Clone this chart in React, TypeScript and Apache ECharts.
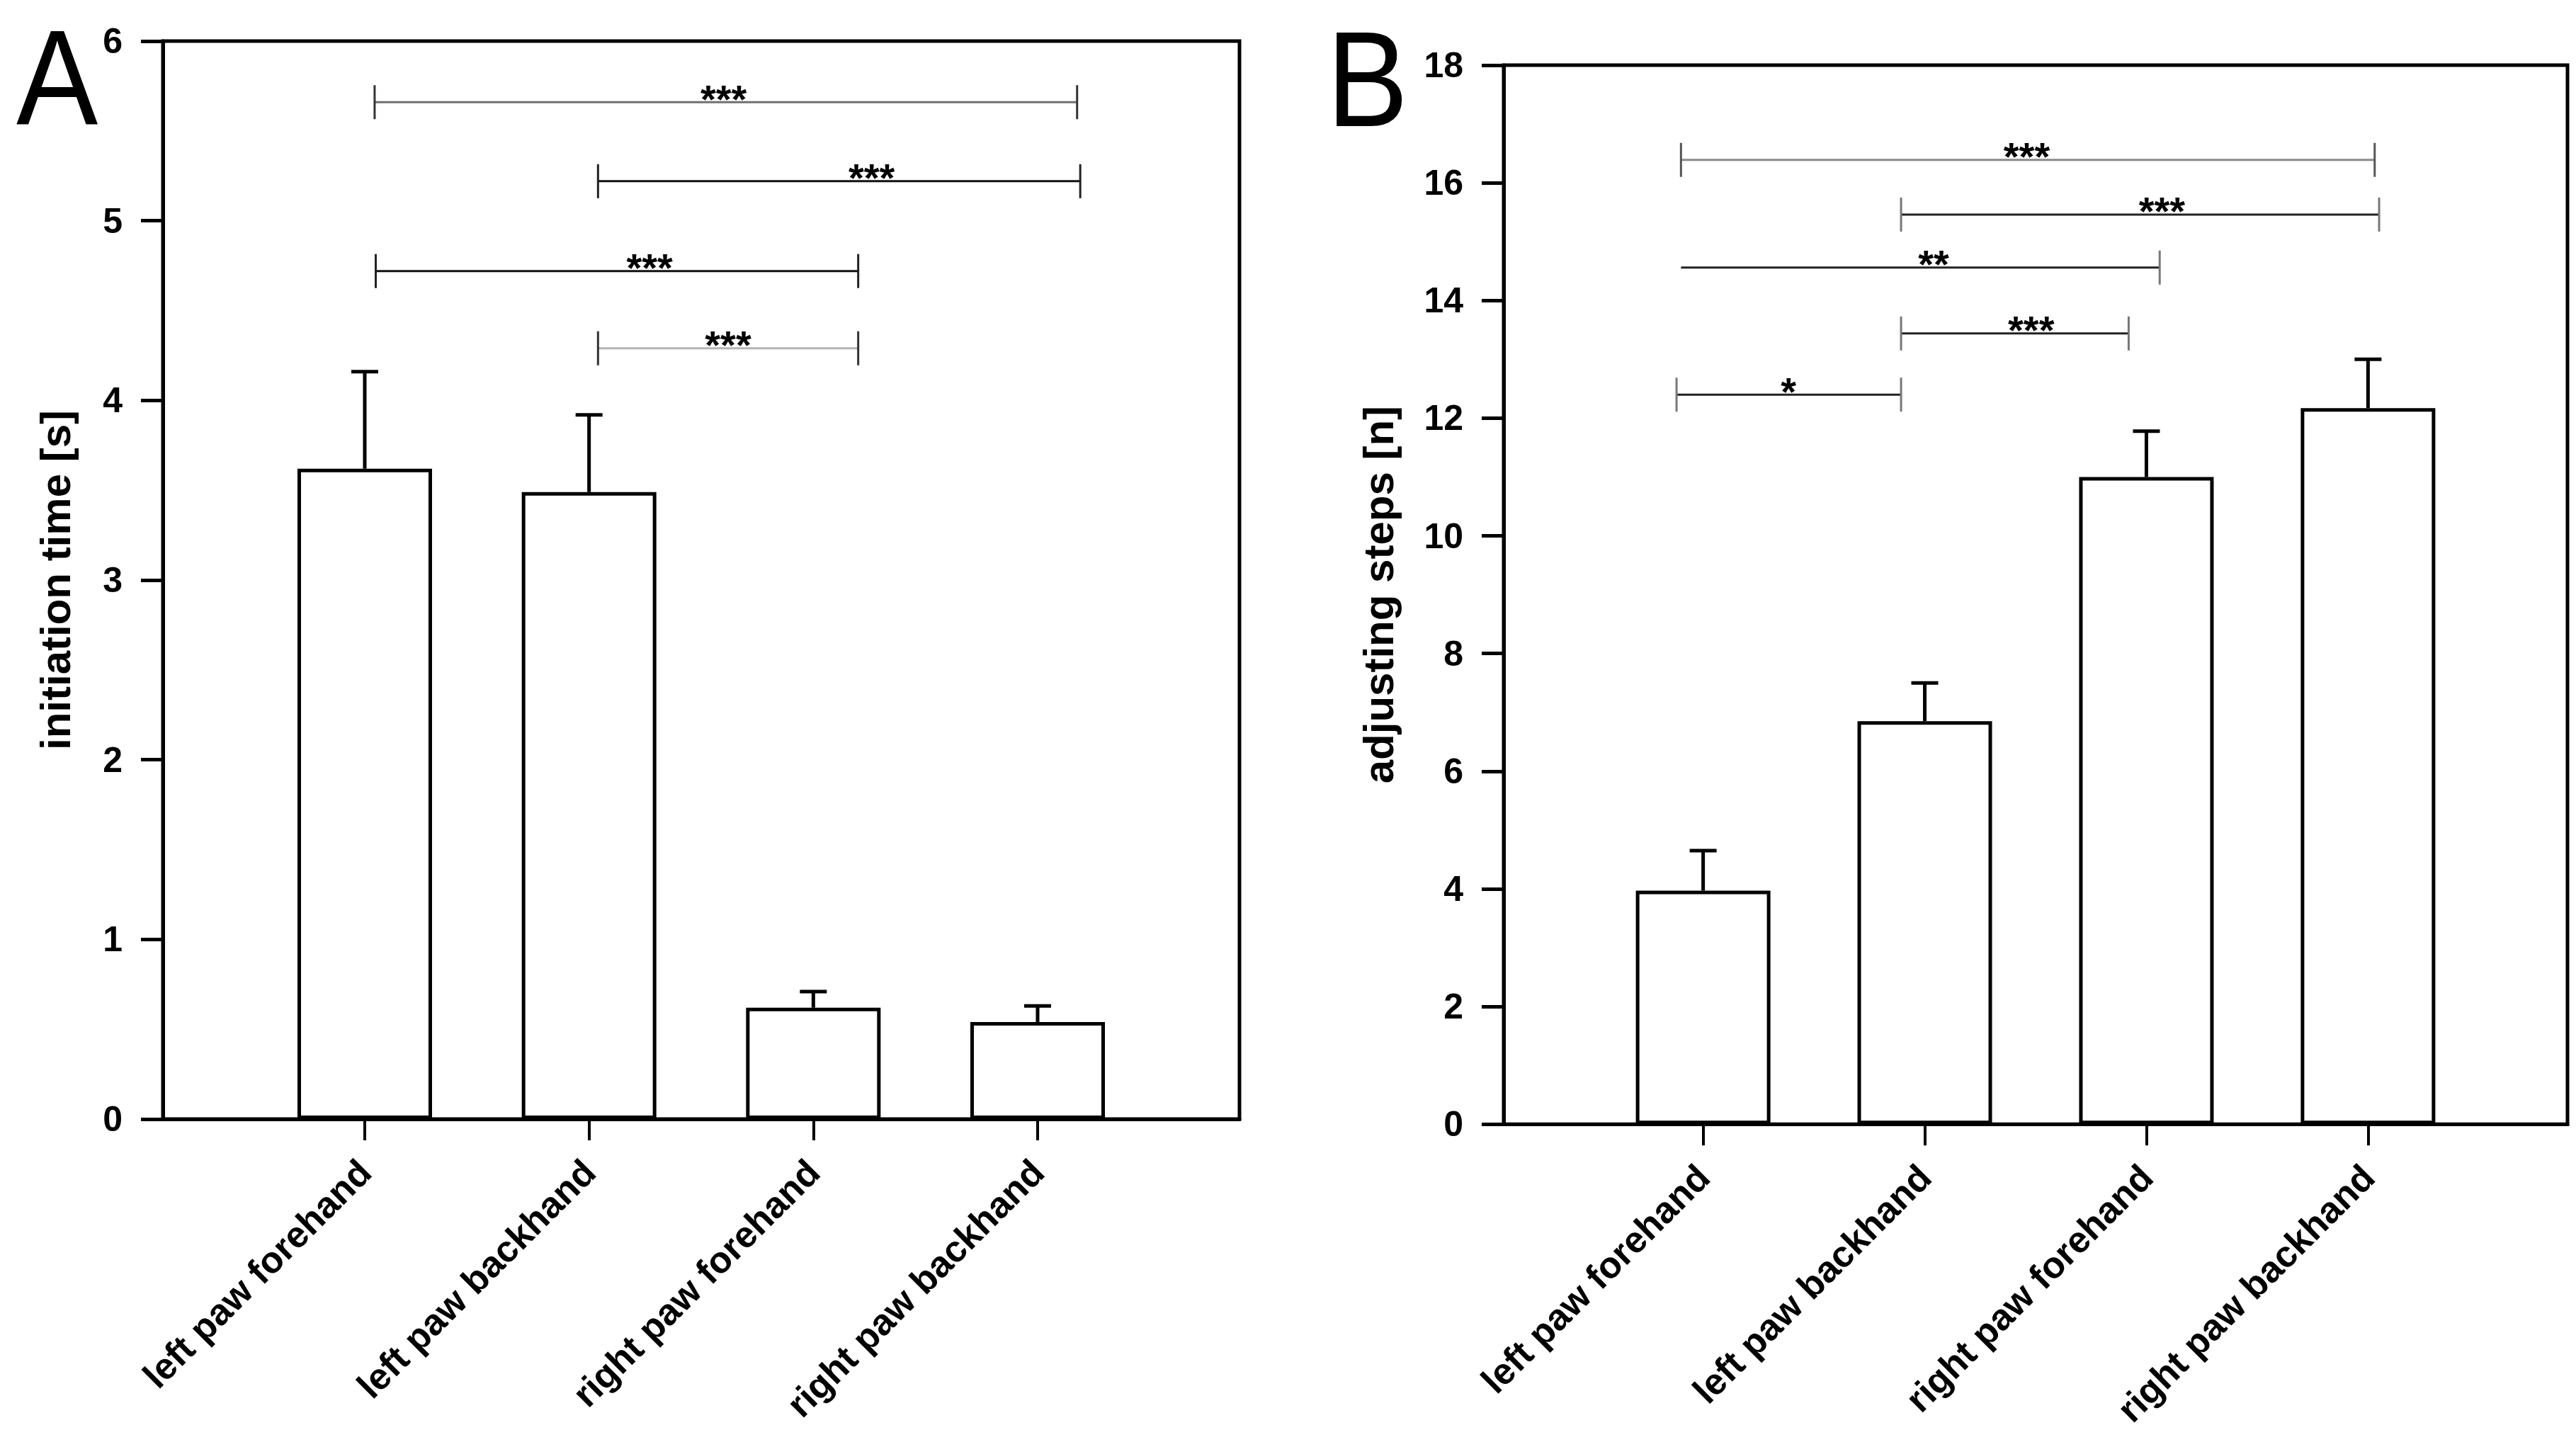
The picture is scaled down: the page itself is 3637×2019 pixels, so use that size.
import React, { useEffect, useRef } from "react";
import * as echarts from "echarts";

const FONT = "'Liberation Sans', Arial, Helvetica, sans-serif";

// ---- data ----
const categories = ["left paw forehand", "left paw backhand", "right paw forehand", "right paw backhand"];
const catPos = [1, 2, 3, 4];

const meanA = [3.62, 3.49, 0.62, 0.54];
const errTopA = [4.16, 3.92, 0.71, 0.63];
const yTicksA = [0, 1, 2, 3, 4, 5, 6];

const meanB = [3.97, 6.85, 11.0, 12.17];
const errTopB = [4.65, 7.5, 11.78, 13.0];
const yTicksB = [0, 2, 4, 6, 8, 10, 12, 14, 16, 18];

const bracketStartA = [1.044, 2.04, 1.049, 2.04];
const bracketEndA = [4.176, 4.19, 3.2, 3.2];
const bracketLevelA = [5.66, 5.22, 4.72, 4.29];
const bracketTextXA = [2.6, 3.26, 2.27, 2.62];
const bracketStarsA = ["***", "***", "***", "***"];
const bracketLeftTickA = [1, 1, 1, 1];

const bracketStartB = [0.9, 1.893, 0.9, 1.893, 0.88];
const bracketEndB = [4.03, 4.05, 3.06, 2.92, 1.893];
const bracketLevelB = [16.39, 15.46, 14.56, 13.44, 12.4];
const bracketTextXB = [2.46, 3.07, 2.04, 2.48, 1.385];
const bracketStarsB = ["***", "***", "**", "***", "*"];
const bracketLeftTickB = [1, 1, 0, 1, 1];

// ---- styles ----
const bracketLineColorA = ["#707070", "#111111", "#111111", "#b4b4b4"];
const bracketTickColorA = ["#333333", "#222222", "#222222", "#333333"];
const bracketLineColorB = ["#8a8a8a", "#222222", "#222222", "#222222", "#222222"];
const bracketTickColorB = ["#555555", "#777777", "#777777", "#777777", "#777777"];

function makeXAxis(gridIndex: number) {
  return {
    type: "value",
    gridIndex,
    min: 0.1,
    max: 4.9,
    axisLine: { show: true, onZero: false, lineStyle: { color: "#000", width: 5 } },
    axisTick: { show: true, customValues: catPos, length: 30, lineStyle: { color: "#000", width: 4 } },
    axisLabel: {
      show: true,
      customValues: catPos,
      formatter: (v: number) => categories[Math.round(v) - 1] || "",
      rotate: 45,
      margin: 66,
      fontSize: 52,
      fontWeight: "bold",
      fontFamily: FONT,
      color: "#000",
    },
    splitLine: { show: false },
  };
}

function makeYAxis(gridIndex: number, ticks: number[], name: string, nameGap: number) {
  return {
    type: "value",
    gridIndex,
    min: ticks[0],
    max: ticks[ticks.length - 1],
    interval: ticks[1] - ticks[0],
    axisLine: { show: true, lineStyle: { color: "#000", width: 5 } },
    axisTick: { show: true, length: 31, lineStyle: { color: "#000", width: 5 } },
    axisLabel: { margin: 57, fontSize: 50, fontWeight: "bold", fontFamily: FONT, color: "#000" },
    splitLine: { show: false },
    name,
    nameLocation: "middle",
    nameGap,
    nameTextStyle: { fontSize: 60, fontWeight: "bold", fontFamily: FONT, color: "#000" },
  };
}

function barSeries(idx: number, means: number[]) {
  return {
    type: "bar",
    xAxisIndex: idx,
    yAxisIndex: idx,
    data: catPos.map((x, i) => [x, means[i]]),
    barWidth: 190,
    itemStyle: { color: "#ffffff", borderColor: "#000", borderWidth: 5 },
    z: 2,
  };
}

function errSeries(idx: number, means: number[], tops: number[]) {
  return {
    type: "custom",
    xAxisIndex: idx,
    yAxisIndex: idx,
    data: catPos.map((x, i) => [x, means[i], tops[i]]),
    z: 3,
    renderItem: (params: any, api: any) => {
      const p0 = api.coord([api.value(0), api.value(1)]);
      const p1 = api.coord([api.value(0), api.value(2)]);
      const st = { stroke: "#000", lineWidth: 5 };
      return {
        type: "group",
        children: [
          { type: "line", shape: { x1: p0[0], y1: p0[1], x2: p1[0], y2: p1[1] }, style: st },
          { type: "line", shape: { x1: p1[0] - 19, y1: p1[1], x2: p1[0] + 19, y2: p1[1] }, style: st },
        ],
      };
    },
  };
}

function bracketSeries(
  idx: number,
  starts: number[],
  ends: number[],
  levels: number[],
  textXs: number[],
  stars: string[],
  leftTicks: number[],
  lineColors: string[],
  tickColors: string[]
) {
  return {
    type: "custom",
    xAxisIndex: idx,
    yAxisIndex: idx,
    data: starts.map((s, i) => [s, ends[i], levels[i], textXs[i], leftTicks[i], i]),
    z: 4,
    renderItem: (params: any, api: any) => {
      const i = api.value(5);
      const a = api.coord([api.value(0), api.value(2)]);
      const b = api.coord([api.value(1), api.value(2)]);
      const t = api.coord([api.value(3), api.value(2)]);
      const h = 24;
      const children: any[] = [
        {
          type: "line",
          shape: { x1: a[0], y1: a[1], x2: b[0], y2: b[1] },
          style: { stroke: lineColors[i], lineWidth: 3 },
        },
        {
          type: "line",
          shape: { x1: b[0], y1: b[1] - h, x2: b[0], y2: b[1] + h },
          style: { stroke: tickColors[i], lineWidth: 3 },
        },
        {
          type: "text",
          x: t[0],
          y: t[1] - 5,
          style: {
            text: stars[i],
            fill: "#000",
            fontSize: 56,
            fontWeight: "bold",
            fontFamily: FONT,
            align: "center",
            verticalAlign: "middle",
          },
        },
      ];
      if (api.value(4)) {
        children.push({
          type: "line",
          shape: { x1: a[0], y1: a[1] - h, x2: a[0], y2: a[1] + h },
          style: { stroke: tickColors[i], lineWidth: 3 },
        });
      }
      return { type: "group", children };
    },
  };
}

export default function App() {
  const ref = useRef<HTMLDivElement>(null);

  useEffect(() => {
    document.body.style.margin = "0";
    if (!ref.current) return;
    const chart = echarts.init(ref.current, null, { renderer: "svg" });
    const option: any = {
      animation: false,
      backgroundColor: "#ffffff",
      grid: [
        { left: 230, top: 58, width: 1520, height: 1522, show: true, borderColor: "#000", borderWidth: 5, backgroundColor: "transparent" },
        { left: 2123, top: 92, width: 1502, height: 1497, show: true, borderColor: "#000", borderWidth: 5, backgroundColor: "transparent" },
      ],
      xAxis: [makeXAxis(0), makeXAxis(1)],
      yAxis: [
        makeYAxis(0, yTicksA, "initiation time [s]", 122),
        makeYAxis(1, yTicksB, "adjusting steps [n]", 147),
      ],
      graphic: [
        {
          type: "text",
          x: 23,
          y: 110,
          scaleX: 0.9,
          style: { text: "A", fontSize: 192, fontFamily: FONT, fill: "#000", align: "left", verticalAlign: "middle" },
        },
        {
          type: "text",
          x: 1873,
          y: 112,
          scaleX: 0.9,
          style: { text: "B", fontSize: 192, fontFamily: FONT, fill: "#000", align: "left", verticalAlign: "middle" },
        },
      ],
      series: [
        barSeries(0, meanA),
        errSeries(0, meanA, errTopA),
        bracketSeries(0, bracketStartA, bracketEndA, bracketLevelA, bracketTextXA, bracketStarsA, bracketLeftTickA, bracketLineColorA, bracketTickColorA),
        barSeries(1, meanB),
        errSeries(1, meanB, errTopB),
        bracketSeries(1, bracketStartB, bracketEndB, bracketLevelB, bracketTextXB, bracketStarsB, bracketLeftTickB, bracketLineColorB, bracketTickColorB),
      ],
    };
    chart.setOption(option);
    return () => chart.dispose();
  }, []);

  return <div ref={ref} style={{ width: 3637, height: 2019 }} />;
}
